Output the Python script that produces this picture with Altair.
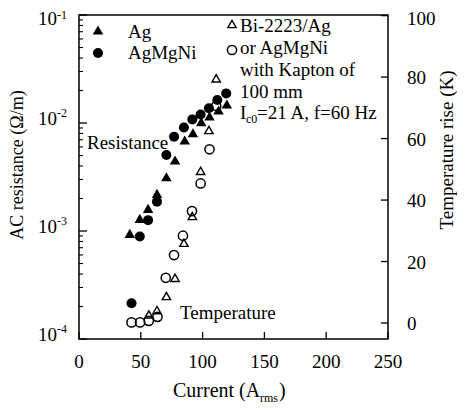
import altair as alt
import pandas as pd

# ---- data ----
ag_I = [41.1, 49.2, 55.9, 63.1, 70.7, 77.7, 85.5, 92.2, 98.9, 105.6, 112.9, 119.6]
ag_R = [9.5e-4, 1.31e-3, 1.62e-3, 2.23e-3, 3.18e-3, 4.54e-3, 6.96e-3, 8.13e-3, 1.03e-2, 1.16e-2, 1.32e-2, 1.5e-2]

mg_I = [42.5, 49.2, 55.9, 63.1, 70.7, 76.9, 84.9, 91.7, 98.4, 105.1, 111.9, 119.1]
mg_R = [2.14e-4, 8.9e-4, 1.26e-3, 1.87e-3, 5.06e-3, 7.46e-3, 9.1e-3, 1.08e-2, 1.2e-2, 1.37e-2, 1.63e-2, 1.88e-2]

tri_I = [56.5, 63.1, 70.7, 77.7, 84.9, 91.7, 98.4, 105.1, 111.0]
tri_T = [2.8, 4.2, 8.8, 14.7, 26.1, 34.8, 49.5, 62.8, 79.6]

circ_I = [42.5, 49.4, 56.5, 63.5, 70.2, 76.9, 84.1, 91.4, 98.4, 105.6, 111.0]
circ_T = [0.2, 0.2, 0.7, 2.0, 14.7, 22.1, 28.4, 36.4, 45.4, 56.5, 70.6]

x_ticks = [0, 50, 100, 150, 200, 250]
r_major = [1e-4, 1e-3, 1e-2, 1e-1]
r_exps = ["-4", "-3", "-2", "-1"]
r_minor = [m * 10.0 ** k for k in (-4, -3, -2) for m in range(2, 10)]
t_ticks = [0, 20, 40, 60, 80, 100]

W, H = 309, 324
FONT = "Liberation Serif"

xs = alt.Scale(domain=[0, 250], nice=False)
rs = alt.Scale(type="log", domain=[1e-4, 1e-1], nice=False)
ts = alt.Scale(domain=[-5.2, 100.2], nice=False, zero=False)

XI = alt.X("I:Q", scale=xs, axis=None)
YR = alt.Y("R:Q", scale=rs, axis=None)
YT = alt.Y("T:Q", scale=ts, axis=None)

ag = pd.DataFrame({"I": ag_I, "R": ag_R})
mg = pd.DataFrame({"I": mg_I, "R": mg_R})
tri = pd.DataFrame({"I": tri_I, "T": tri_T})
circ = pd.DataFrame({"I": circ_I, "T": circ_T})

layers = []

# data marks
layers.append(alt.Chart(ag).mark_point(shape="triangle-up", filled=True, size=110, color="black", opacity=1).encode(x=XI, y=YR))
layers.append(alt.Chart(mg).mark_point(shape="circle", filled=True, size=100, color="black", opacity=1).encode(x=XI, y=YR))
layers.append(alt.Chart(tri).mark_point(shape="triangle-up", filled=False, size=70, strokeWidth=1.4, color="black", opacity=1).encode(x=XI, y=YT))
layers.append(alt.Chart(circ).mark_point(shape="circle", filled=False, size=85, strokeWidth=1.5, color="black", opacity=1).encode(x=XI, y=YT))

# left ticks (inward)
rmaj = pd.DataFrame({"R": r_major, "e": r_exps})
rmin = pd.DataFrame({"R": r_minor})
layers.append(alt.Chart(rmaj).mark_rule(color="black", strokeWidth=1.3).encode(x=alt.value(0), x2=alt.value(8), y=YR))
layers.append(alt.Chart(rmin).mark_rule(color="black", strokeWidth=1.1).encode(x=alt.value(0), x2=alt.value(4), y=YR))
# left tick labels 10^n (top one sits a little lower so it stays on the page)
low = alt.Chart(rmaj).transform_filter("datum.R < 0.05")
top = alt.Chart(rmaj).transform_filter("datum.R >= 0.05")
layers.append(low.mark_text(text="10", font=FONT, fontSize=19, align="right", baseline="middle", dy=-4, color="black").encode(x=alt.value(-22), y=YR))
layers.append(low.mark_text(font=FONT, fontSize=12, align="left", baseline="middle", dy=-10, color="black").encode(x=alt.value(-22), y=YR, text="e:N"))
layers.append(top.mark_text(text="10", font=FONT, fontSize=19, align="right", baseline="middle", dy=4, color="black").encode(x=alt.value(-22), y=YR))
layers.append(top.mark_text(font=FONT, fontSize=12, align="left", baseline="middle", dy=0, color="black").encode(x=alt.value(-22), y=YR, text="e:N"))

# right ticks and labels
tt = pd.DataFrame({"T": t_ticks})
layers.append(alt.Chart(tt).mark_rule(color="black", strokeWidth=1.3).encode(x=alt.value(W), x2=alt.value(W - 7), y=YT))
layers.append(alt.Chart(tt).transform_filter("datum.T < 90").mark_text(font=FONT, fontSize=19, align="left", baseline="middle", dy=1, color="black").encode(x=alt.value(W + 19), y=YT, text="T:Q"))
layers.append(alt.Chart(tt).transform_filter("datum.T >= 90").mark_text(font=FONT, fontSize=19, align="left", baseline="middle", dy=3, color="black").encode(x=alt.value(W + 19), y=YT, text="T:Q"))

# bottom ticks and labels
xt = pd.DataFrame({"I": x_ticks})
layers.append(alt.Chart(xt).mark_rule(color="black", strokeWidth=1.3).encode(x=XI, y=alt.value(H), y2=alt.value(H - 7)))
layers.append(alt.Chart(xt).mark_text(font=FONT, fontSize=19, align="center", baseline="middle", color="black").encode(x=XI, y=alt.value(H + 23), text="I:Q"))

one = pd.DataFrame({"a": [0]})


def txt(s, x, y, size=19, align="left", angle=0):
    kw = dict(text=s, font=FONT, fontSize=size, align=align, baseline="middle", color="black")
    if angle:
        kw["angle"] = angle
    return alt.Chart(one).mark_text(**kw).encode(x=alt.value(x), y=alt.value(y))


def marker(shape, filled, x, y, size, sw=1.4):
    return alt.Chart(one).mark_point(shape=shape, filled=filled, size=size, strokeWidth=sw, color="black", opacity=1).encode(x=alt.value(x), y=alt.value(y))


# legend (left)
layers.append(marker("triangle-up", True, 19, 15, 110))
layers.append(txt("Ag", 49, 17))
layers.append(marker("circle", True, 19, 38, 100))
layers.append(txt("AgMgNi", 49, 38))

# legend (right)
layers.append(marker("triangle-up", False, 153, 9, 70))
layers.append(marker("circle", False, 153, 35, 85, 1.5))
layers.append(txt("Bi-2223/Ag", 161, 11))
layers.append(txt("or AgMgNi", 161, 33))
layers.append(txt("with Kapton of", 161, 55))
layers.append(txt("100 mm", 161, 77))
layers.append(txt("I", 161, 98))
layers.append(txt("c0", 167, 104, size=12))
layers.append(txt("=21 A, f=60 Hz", 178, 98))

# annotations
layers.append(txt("Resistance", 8, 128))
layers.append(txt("Temperature", 101, 298))

# axis titles
layers.append(txt("AC resistance (\u03a9/m)", -61, 150, size=18, align="center", angle=270))
layers.append(txt("Temperature rise (K)", 368, 135, size=19, align="center", angle=270))
layers.append(txt("Current (A", 94, 376, size=20))
layers.append(txt("rms", 181, 383, size=12))
layers.append(txt(")", 200, 376, size=20))

chart = alt.layer(*layers).resolve_scale(y="independent").properties(
    width=W,
    height=H,
    autosize=alt.AutoSizeParams(type="none"),
    padding={"left": 71, "top": 7, "right": 69, "bottom": 66},
    background="white",
).configure_view(stroke="black", strokeWidth=1.5)

chart.save("out.html", embed_options={"renderer": "svg", "actions": False})
